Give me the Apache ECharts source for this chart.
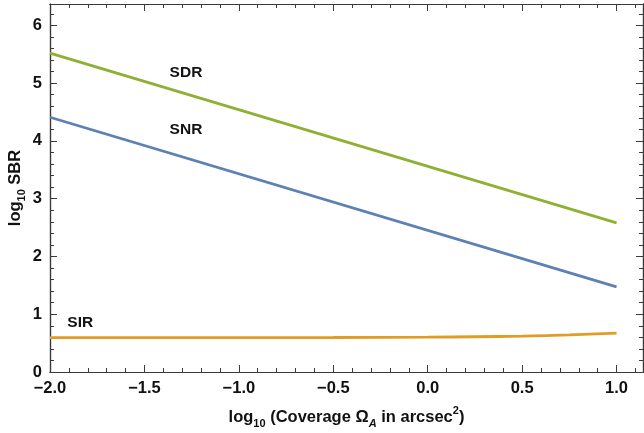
<!DOCTYPE html>
<html>
<head>
<meta charset="utf-8">
<script src="https://cdn.jsdelivr.net/npm/echarts@6/dist/echarts.min.js"></script>
<style>
html,body{margin:0;padding:0;background:#fff;}
#chart{width:644px;height:433px;}
</style>
</head>
<body>
<div id="chart"></div>
<script>
// 数据
var lineX = [-2, 1];
var sdrY = [5.52, 2.58];
var snrY = [4.41, 1.475];
var sirX = [-2, -1.5, -1, -0.5, 0, 0.25, 0.5, 0.75, 1];
var sirY = [0.594, 0.594, 0.595, 0.597, 0.603, 0.61, 0.622, 0.642, 0.672];
// 标签位置(数据坐标)
var labelNames = ['SDR', 'SNR', 'SIR'];
var labelX = [-1.28, -1.28, -1.84];
var labelY = [5.18, 4.2, 0.86];

function pairs(xs, ys) {
    var out = [];
    for (var i = 0; i < xs.length; i++) {
        out.push([xs[i], ys[i]]);
    }
    return out;
}

var frame = '#3a3a3a';
var font = 'Liberation Sans, Arial, sans-serif';

function xAx(pos, iv, len, labels) {
    return {
        type: 'value', position: pos, min: -2, max: 1.14, interval: iv,
        axisLine: { show: true, onZero: false, lineStyle: { color: frame, width: 1.2 } },
        axisTick: { show: true, inside: true, length: len, lineStyle: { color: frame } },
        splitLine: { show: false },
        axisLabel: {
            show: labels, margin: 8, color: '#111', fontWeight: 'bold', fontSize: 16.5, fontFamily: font,
            formatter: function (v) {
                if (Math.abs(v * 2 - Math.round(v * 2)) > 1e-6 || v > 1.05) return '';
                var s = Math.abs(v).toFixed(1);
                return v < -1e-9 ? '\u2212' + s : s;
            }
        }
    };
}
function yAx(pos, iv, len, labels) {
    return {
        type: 'value', position: pos, min: 0, max: 6.37, interval: iv,
        axisLine: { show: true, onZero: false, lineStyle: { color: frame, width: 1.2 } },
        axisTick: { show: true, inside: true, length: len, lineStyle: { color: frame } },
        splitLine: { show: false },
        axisLabel: {
            show: labels, margin: 8, color: '#111', fontWeight: 'bold', fontSize: 16.5, fontFamily: font,
            formatter: function (v) {
                if (Math.abs(v - Math.round(v)) > 1e-6 || v > 6.1) return '';
                return String(Math.round(v));
            }
        }
    };
}

var xAxes = [xAx('bottom', 0.5, 7, true), xAx('bottom', 0.1, 4, false), xAx('top', 0.5, 7, false), xAx('top', 0.1, 4, false)];
var yAxes = [yAx('left', 1, 7, true), yAx('left', 0.2, 4, false), yAx('right', 1, 7, false), yAx('right', 0.2, 4, false)];

var nameRich = {
    b: { fontSize: 16.5, fontWeight: 'bold', fontFamily: font, color: '#111', lineHeight: 24, verticalAlign: 'middle' },
    s: { fontSize: 11, fontWeight: 'bold', fontFamily: font, color: '#111', lineHeight: 24, verticalAlign: 'bottom', padding: [6, 0, 0, 0] },
    si: { fontSize: 11, fontWeight: 'bold', fontStyle: 'italic', fontFamily: font, color: '#111', lineHeight: 24, verticalAlign: 'bottom', padding: [6, 0, 0, 0] },
    p: { fontSize: 11, fontWeight: 'bold', fontFamily: font, color: '#111', lineHeight: 24, verticalAlign: 'top', padding: [0, 0, 6, 0] }
};
xAxes[0].name = '{b|log}{s|10}{b| (Coverage Ω}{si|A}{b| in arcsec}{p|2}{b|)}';
xAxes[0].nameLocation = 'middle';
xAxes[0].nameGap = 33;
xAxes[0].nameTextStyle = { rich: nameRich };
yAxes[0].name = '{b|log}{s|10}{b| SBR}';
yAxes[0].nameLocation = 'middle';
yAxes[0].nameGap = 23;
yAxes[0].nameRotate = 90;
yAxes[0].nameMoveOverlap = false;
yAxes[0].nameTextStyle = { rich: nameRich };

function lbl(i) {
    return {
        symbol: 'circle', symbolSize: 0, silent: true,
        label: { show: true, position: 'inside', formatter: labelNames[i], color: '#111', fontWeight: 'bold', fontSize: 15.5, fontFamily: font },
        data: [{ coord: [labelX[i], labelY[i]] }]
    };
}

var myChart = echarts.init(document.getElementById('chart'));
myChart.setOption({
    animation: false,
    backgroundColor: '#fff',
    grid: { left: 50, right: 1, top: 4, bottom: 61, containLabel: false, outerBoundsMode: 'none' },
    xAxis: xAxes,
    yAxis: yAxes,
    series: [{
        name: 'SDR', type: 'line', data: pairs(lineX, sdrY), showSymbol: false,
        lineStyle: { color: '#8fb032', width: 2.8 }, itemStyle: { color: '#8fb032' },
        markPoint: lbl(0)
    }, {
        name: 'SNR', type: 'line', data: pairs(lineX, snrY), showSymbol: false,
        lineStyle: { color: '#5e81b5', width: 2.8 }, itemStyle: { color: '#5e81b5' },
        markPoint: lbl(1)
    }, {
        name: 'SIR', type: 'line', data: pairs(sirX, sirY), showSymbol: false, smooth: true,
        lineStyle: { color: '#e19c24', width: 2.8 }, itemStyle: { color: '#e19c24' },
        markPoint: lbl(2)
    }]
});
window.addEventListener("resize", function () {
    myChart.resize();
});
</script>
</body>
</html>
